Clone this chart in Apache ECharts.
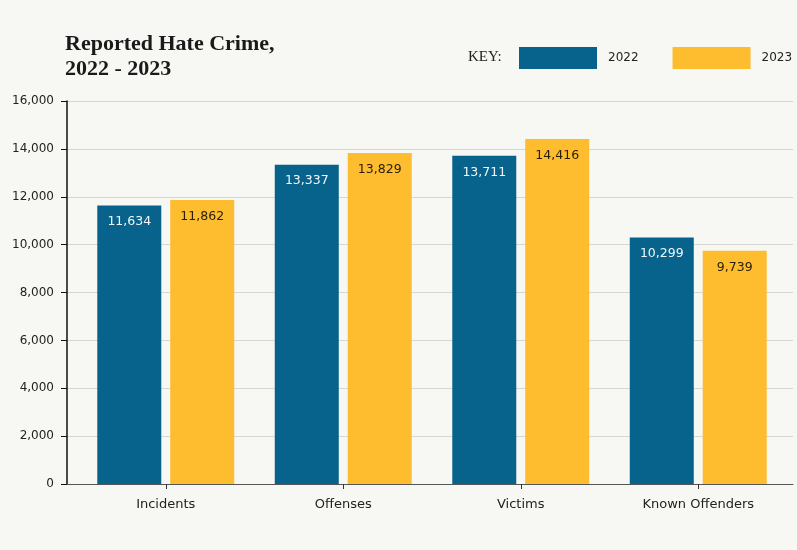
<!DOCTYPE html>
<html>
<head>
<meta charset="utf-8">
<script src="https://cdn.jsdelivr.net/npm/echarts@6/dist/echarts.min.js"></script>
<style>
html,body{margin:0;padding:0;background:#f7f7f3;}
#chart{width:797px;height:550px;}
</style>
</head>
<body>
<div id="chart"></div>
<script>
const categories = ['Incidents', 'Offenses', 'Victims', 'Known Offenders'];
const values2022 = [11634, 13337, 13711, 10299];
const values2023 = [11862, 13829, 14416, 9739];
const seriesNames = ['2022', '2023'];
const yTicks = [0, 2000, 4000, 6000, 8000, 10000, 12000, 14000, 16000];

const chart = echarts.init(document.getElementById('chart'), null, {renderer: 'canvas'});
const fmt = v => Number(v).toLocaleString('en-US');
const sans = '"DejaVu Sans", Verdana, sans-serif';
const serif = '"Liberation Serif", Georgia, serif';

const option = {
  backgroundColor: '#f7f7f3',
  animation: false,
  title: {
    text: 'Reported Hate Crime,\n2022 - 2023',
    left: 65, top: 32, padding: 0,
    textStyle: {fontFamily: serif, fontWeight: 'bold', fontSize: 22, lineHeight: 25, color: '#1a1a1a'}
  },
  graphic: [{
    type: 'text', left: 468, top: 50,
    style: {text: 'KEY:', font: '15px ' + serif, fill: '#222'}
  }],
  legend: {
    orient: 'horizontal',
    left: 519, top: 47, padding: 0,
    itemWidth: 78, itemHeight: 22, itemGap: 34,
    icon: 'rect',
    data: seriesNames,
    textStyle: {fontFamily: sans, fontSize: 12, color: '#222', padding: [0, 0, 0, 6]}
  },
  grid: [
    {left: 67, right: 4, top: 101, bottom: 66},
    {left: 77, right: 10, top: 101, bottom: 66}
  ],
  xAxis: [
    {type: 'value', gridIndex: 0, min: 0, max: 1, show: true,
     axisLine: {show: true, onZero: false, lineStyle: {color: '#555', width: 1}},
     axisTick: {show: false}, axisLabel: {show: false}, splitLine: {show: false}},
    {type: 'category', gridIndex: 1, data: categories,
     axisLine: {show: false},
     axisTick: {show: true, alignWithLabel: true, length: 5, lineStyle: {color: '#333'}},
     axisLabel: {margin: 14, fontFamily: sans, fontSize: 13, color: '#222'}}
  ],
  yAxis: [
    {type: 'value', gridIndex: 0, min: yTicks[0], max: yTicks[yTicks.length - 1], interval: 2000,
     axisLine: {show: true, lineStyle: {color: '#111', width: 1.5}},
     axisTick: {show: true, length: 6, lineStyle: {color: '#111'}},
     axisLabel: {margin: 13, fontFamily: sans, fontSize: 12, color: '#222', formatter: fmt},
     splitLine: {show: true, lineStyle: {color: '#d6d6d2', width: 1}}},
    {type: 'value', gridIndex: 1, min: yTicks[0], max: yTicks[yTicks.length - 1], interval: 2000, show: false,
     splitLine: {show: false}}
  ],
  series: [
    {name: seriesNames[0], type: 'bar', xAxisIndex: 1, yAxisIndex: 1, data: values2022,
     barWidth: 64, barGap: '14%', itemStyle: {color: '#07628c'},
     label: {show: true, position: 'insideTop', distance: 10, formatter: p => fmt(p.value),
             fontFamily: sans, fontSize: 12.5, color: '#f2f6f8'}},
    {name: seriesNames[1], type: 'bar', xAxisIndex: 1, yAxisIndex: 1, data: values2023,
     barWidth: 64, barGap: '14%', itemStyle: {color: '#fdbd2e'},
     label: {show: true, position: 'insideTop', distance: 10, formatter: p => fmt(p.value),
             fontFamily: sans, fontSize: 12.5, color: '#2a1e08'}}
  ]
};
chart.setOption(option);
</script>
</body>
</html>
